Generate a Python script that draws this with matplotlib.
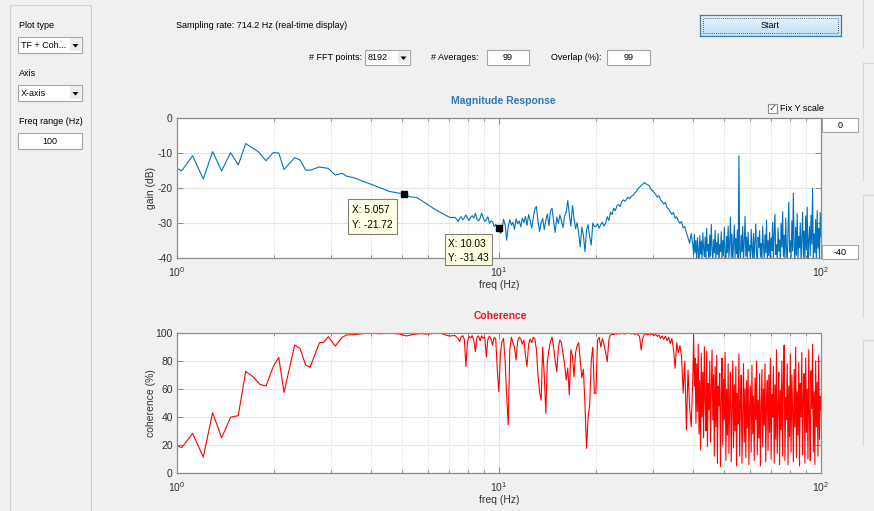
import numpy as np
import matplotlib
matplotlib.use('Agg')
import matplotlib.pyplot as plt
from matplotlib.patches import Rectangle, Polygon
from matplotlib.lines import Line2D
from matplotlib.ticker import LogLocator, NullFormatter

# ---------------- data ----------------
mag_f_low = [1.0, 1.034, 1.118, 1.207, 1.29, 1.376, 1.467, 1.55, 1.634, 1.787, 1.89, 1.99,
             2.07, 2.15, 2.32, 2.41, 2.51, 2.59, 2.77, 2.95, 3.10, 3.26, 3.36, 3.55, 3.97,
             4.58, 5.057, 5.28, 5.55, 5.82, 6.25, 6.70, 7.04]
mag_db_low = [-14.4, -15.1, -10.8, -17.4, -9.6, -15.1, -9.9, -13.4, -7.3, -9.6, -12.2, -9.9,
              -10.0, -14.7, -11.3, -12.0, -14.9, -14.9, -14.0, -14.4, -16.3, -15.8, -16.6, -17.1, -18.8,
              -21.0, -21.72, -22.5, -22.7, -23.9, -25.8, -27.4, -28.4]
# 7.3 - 20 Hz
mag_db_b = [-28.4, -28.9, -29.6, -28.6, -28.2, -29.1, -28.5, -27.7, -28.7, -29.3,
            -28.4, -27.9, -28.6, -27.2, -28.9, -29.4, -28.7, -27.2, -28.4, -29.6,
            -29.1, -28.2, -30.1, -29.4, -29.6, -31.0, -30.4, -31.5,
            -31.4, -33.0, -32.2, -28.9, -30.5, -34.9, -31.0, -29.1, -30.6, -29.8,
            -31.8, -28.8, -30.2, -29.4, -31.1, -28.6, -29.9, -28.1, -30.7, -27.6,
            -29.3, -31.5, -28.4, -26.0, -25.3, -29.5, -32.4, -30.0, -28.7, -31.9,
            -29.2, -27.4, -30.8, -26.5, -25.8, -29.6, -32.7, -28.3, -30.1, -27.7,
            -29.4, -31.3, -28.1, -26.9, -23.6, -27.5, -30.9, -25.0, -28.8, -31.6,
            -29.9, -33.1, -36.8, -31.2, -33.5, -38.2, -32.0, -30.5, -34.0, -36.3,
            -30.0, -31.0]
# 20 - 40 Hz
mag_db_c = [-31.0, -30.2, -31.5, -30.4, -29.8, -30.9, -30.1, -28.2, -29.3, -26.9,
            -27.6, -25.8, -26.5, -25.1, -24.7, -25.3, -23.9, -23.4, -23.8, -23.1,
            -22.6, -23.0, -22.3, -22.1, -21.4, -21.0, -20.2, -19.8, -19.3, -18.9,
            -18.4, -18.8, -19.1, -19.4, -20.3, -20.8, -21.2, -21.9, -22.6, -22.2,
            -23.4, -23.9, -24.6, -24.1, -25.6, -26.0, -26.9, -27.5, -27.0, -28.6,
            -28.2, -29.4, -30.1, -29.6, -31.4, -31.0, -32.8, -34.2, -35.8, -33.0]
# 40 - 100 Hz
mag_db_d = [-36.5, -39.0, -33.2, -38.4, -35.0, -41.5, -34.2, -37.8, -40.5, -33.6,
            -38.9, -35.1, -41.0, -32.8, -37.2, -39.6, -34.0, -40.8, -31.5, -38.0, -36.1, -42.0, -33.4,
            -39.5, -30.4, -37.0, -41.2, -34.8, -38.6, -32.1, -40.3, -35.5, -39.0, -33.0, -41.8, -36.2,
            -38.1, -32.5, -40.9, -35.0, -39.4, -31.2, -37.7, -42.0, -33.8, -38.5, -30.9, -40.2, -35.9,
            -28.3, -39.8, -33.2, -41.5, -36.0, -30.5, -40.0, -34.4, -38.8, -32.0, -42.0, -10.8, -37.5,
            -40.7, -33.5, -38.2, -31.0, -41.3, -35.2, -28.1, -39.5, -34.0, -40.9, -32.6, -38.0, -36.4,
            -41.6, -31.8, -37.3, -39.9, -33.0, -40.5, -35.5, -30.3, -38.8, -42.0, -34.1, -37.0, -32.2,
            -39.7, -35.8, -41.1, -30.9, -36.6, -40.2, -33.4, -38.5, -29.2, -41.0, -35.0, -39.3, -32.7,
            -40.6, -34.3, -37.9, -29.8, -41.4, -33.0, -27.5, -39.0, -36.2, -40.8, -31.4, -38.1, -34.8,
            -41.2, -30.1, -36.9, -26.8, -39.6, -33.5, -40.7, -28.6, -37.4, -42.0, -32.0, -24.0, -38.3,
            -35.1, -40.4, -29.4, -38.0, -21.5, -36.7, -41.3, -31.2, -39.2, -27.3, -40.6, -33.8, -37.0,
            -30.0, -41.5, -34.5, -26.9, -39.8, -32.3, -40.9, -28.0, -37.6, -25.5, -41.0, -35.2, -31.0,
            -39.4, -27.8, -36.0, -20.1, -40.7, -33.1, -38.5, -29.0, -41.8, -26.5, -37.2, -31.5, -40.0, -27.0, -34.0]

coh_f_low = [1.0, 1.034, 1.118, 1.207, 1.29, 1.376, 1.467, 1.55, 1.634, 1.72, 1.81, 1.89, 1.99,
             2.07, 2.15, 2.32, 2.41, 2.51, 2.59, 2.77, 2.85, 2.95, 3.10, 3.26, 3.36, 3.55, 3.8,
             4.0, 4.3, 4.6, 4.9, 5.17, 5.4, 5.7, 6.0, 6.3, 6.6, 7.0]
coh_low = [19.5, 18.1, 28.3, 11.4, 43.1, 25.2, 39.8, 41.0, 72.6, 68.8, 63.3, 62.1, 76.0,
           82.6, 57.6, 91.4, 89.0, 77.1, 75.5, 93.1, 93.3, 97.4, 90.7, 96.9, 98.6, 98.8, 99.6,
           99.8, 99.5, 99.9, 99.3, 97.9, 98.9, 99.6, 99.2, 99.8, 99.7, 97.8]
coh_b = [98.2, 97.0, 96.1, 93.8, 97.5, 98.0, 95.2, 76.0, 94.0, 97.6,
         96.5, 98.1, 95.0, 86.7, 96.8, 97.9, 94.4, 98.0, 96.2, 97.3,
         83.0, 95.5, 97.8, 96.0, 91.4, 97.0, 95.8, 74.0,
         58.0, 85.0, 94.0, 96.2, 80.0, 55.0, 34.3, 88.0, 97.0, 93.0,
         90.0, 80.7, 94.0, 97.0, 96.0, 92.0, 95.0, 84.0, 76.0, 92.0,
         95.5, 93.0, 97.0, 96.0, 88.0, 70.0, 58.0, 52.0, 90.0, 70.0,
         42.6, 80.0, 88.0, 94.0, 97.0, 90.0, 80.0, 72.4, 90.0, 95.0,
         93.0, 85.0, 78.0, 66.4, 75.0, 55.7, 88.0, 84.0, 68.8, 86.0,
         91.0, 93.0, 80.0, 68.0, 74.0, 48.6, 17.6, 40.0, 48.6, 80.0,
         90.0, 56.9]
coh_c = [57.0, 95.0, 97.0, 90.0, 96.0, 92.0, 86.0, 79.5, 95.0, 98.5,
         99.0, 98.8, 99.5, 99.2, 99.7, 99.4, 99.8, 99.5, 99.3, 99.8,
         99.6, 99.9, 99.4, 99.7, 99.1, 99.6, 98.9, 97.5, 87.9, 96.5,
         99.0, 99.4, 98.7, 99.5, 98.8, 99.3, 98.2, 99.0, 97.6, 98.5,
         96.2, 98.0, 95.5, 97.8, 94.6, 97.0, 92.5, 96.0, 88.5, 74.8,
         93.0, 86.0, 91.0, 83.0, 57.0, 80.0, 30.7, 73.6, 47.0, 33.0]
coh_d = [70, 98.6, 61.9, 82, 35.5, 78, 44, 92, 28, 66,
         16.4, 85.5, 40, 72, 25, 90.2, 52, 30, 87, 18.8, 64, 45, 80,
         22, 58, 88, 37.9, 70, 12, 76, 33, 84, 6.9, 62, 48, 71.2,
         4.5, 55, 82, 20, 67, 38, 86, 9, 60, 27, 78, 14, 52,
         72, 8, 44, 80, 18, 63, 30, 76, 5, 57, 35, 85, 12,
         50, 70, 7, 41, 78, 22, 60, 11, 66, 32, 74, 6, 48,
         62, 15, 77, 28, 55, 9, 68, 38, 80, 13, 52, 25, 71,
         5, 45, 74, 19, 60, 34, 78, 8, 50, 66, 16, 70, 29,
         82, 10, 56, 40, 76, 7, 63, 24, 88, 14, 48, 72, 6,
         59, 31, 80, 12, 67, 91.4, 9, 54, 38, 78, 6, 62, 26,
         85, 15, 70, 44, 8, 74, 33, 90, 11, 58, 27, 79, 5,
         64, 40, 86, 13, 55, 71, 7, 82, 29, 60, 10, 88, 37,
         9, 73, 46, 92, 15, 58, 6, 80, 33, 65, 12, 84, 24, 55, 45]

seg_edges = [7.3, 20.0, 40.0, 100.0]
tips = [(5.057, -21.72), (10.03, -31.43)]
mag_yticks = [-40, -30, -20, -10, 0]
coh_yticks = [0, 20, 40, 60, 80, 100]
xtick_vals = [1, 10, 100]
xtick_labels = [r'$\mathregular{10^{0}}$', r'$\mathregular{10^{1}}$', r'$\mathregular{10^{2}}$']


def build(f_low, v_low, vb, vc, vd):
    fb = np.geomspace(seg_edges[0], seg_edges[1], len(vb), endpoint=False)
    fc = np.geomspace(seg_edges[1], seg_edges[2], len(vc), endpoint=False)
    fd = np.geomspace(seg_edges[2], seg_edges[3], len(vd))
    f = np.concatenate([f_low, fb, fc, fd])
    v = np.concatenate([v_low, vb, vc, vd])
    return f, v


mag_f, mag_v = build(mag_f_low, mag_db_low, mag_db_b, mag_db_c, mag_db_d)
coh_f, coh_v = build(coh_f_low, coh_low, coh_b, coh_c, coh_d)

# ---------------- figure ----------------
plt.rcParams['font.family'] = ['Liberation Sans', 'DejaVu Sans']
plt.rcParams['axes.unicode_minus'] = False

W, H = 874, 511
fig = plt.figure(figsize=(W / 100, H / 100), dpi=100, facecolor='#f0f0f0')


def fx(x):
    return x / W


def fy(y):
    return 1 - y / H


def rect(x0, y0, x1, y1, fc='white', ec='#abadb3', lw=0.8, ls='-', z=1):
    fig.patches.append(Rectangle((fx(x0), fy(y1)), (x1 - x0) / W, (y1 - y0) / H,
                                 transform=fig.transFigure, facecolor=fc, edgecolor=ec,
                                 lw=lw, ls=ls, zorder=z))


def hline(x0, y0, x1, y1, color='#d6d6d6', lw=0.8):
    fig.add_artist(Line2D([fx(x0), fx(x1)], [fy(y0), fy(y1)], transform=fig.transFigure,
                          color=color, lw=lw))


def text(x, y, s, size=6.5, ha='left', va='center', **kw):
    fig.text(fx(x), fy(y), s, fontsize=size, ha=ha, va=va, **kw)


def dropdown(x0, y0, x1, y1, label):
    rect(x0, y0, x1, y1, 'white', '#a5a5a5')
    rect(x1 - 12, y0 + 1.5, x1 - 1.5, y1 - 1.5, '#ececec', 'none')
    cx, cy = x1 - 6.5, (y0 + y1) / 2 + 0.5
    fig.patches.append(Polygon([(fx(cx - 3), fy(cy - 1.5)), (fx(cx + 3), fy(cy - 1.5)),
                                (fx(cx), fy(cy + 2))], closed=True, transform=fig.transFigure,
                               facecolor='black', edgecolor='none', zorder=2))
    text(x0 + 3, (y0 + y1) / 2 + 0.5, label, color='black')


def editbox(x0, y0, x1, y1, label):
    rect(x0, y0, x1, y1, 'white', '#a5a5a5')
    text((x0 + x1) / 2, (y0 + y1) / 2 + 0.5, label, ha='center', color='black')


# left panel
rect(10, 5, 91, 520, 'none', '#d2d2d2', lw=0.9)
text(19, 26, 'Plot type')
dropdown(18, 37, 82, 53, 'TF + Coh...')
text(19, 73, 'Axis')
dropdown(18, 85, 82, 101, 'X-axis')
text(19, 122, 'Freq range (Hz)')
editbox(18, 133, 82, 149, '100')

# top controls
text(176, 25, 'Sampling rate: 714.2 Hz (real-time display)')
text(362, 57, '# FFT points:', ha='right')
dropdown(365, 50, 410, 65, '8192')
text(431, 57, '# Averages:')
editbox(487, 50, 529, 65, '99')
text(551, 57, 'Overlap (%):')
editbox(607, 50, 650, 65, '99')

# start button
bax = fig.add_axes([fx(700), fy(36), 141 / W, 21 / H])
g = np.linspace(0, 1, 40)[:, None]
top_c = np.array([0.91, 0.96, 0.99])
bot_c = np.array([0.76, 0.88, 0.97])
img = (top_c[None, None, :] * (1 - g[..., None]) + bot_c[None, None, :] * g[..., None])
bax.imshow(img, aspect='auto', extent=[0, 1, 0, 1])
bax.set_xticks([]); bax.set_yticks([])
for s in bax.spines.values():
    s.set_color('#3c7fb1'); s.set_linewidth(0.9)
bax.add_patch(Rectangle((0.02, 0.12), 0.96, 0.76, transform=bax.transAxes, fill=False,
                        edgecolor='#333333', lw=0.6, ls=(0, (1, 1.5))))
bax.text(0.5, 0.5, 'Start', transform=bax.transAxes, ha='center', va='center', fontsize=6.5)

# right side panel edges
for (ya, yb) in [(0, 48), (63, 180), (195, 317), (340, 445)]:
    hline(863, ya, 863, yb)
for ya in [63, 195, 340]:
    hline(863, ya, 874, ya)

# checkbox
rect(768, 104, 777, 113, 'white', '#8e8f8f')
text(772.5, 108.5, '\u2713', size=7, ha='center', color='#1c4f8f', family=['DejaVu Sans'])
text(780, 108.5, 'Fix Y scale')

# value boxes
editbox(822, 118, 858, 132, '0')
editbox(822, 245, 858, 259, '-40')


def style_axes(ax, yticks, ylim):
    ax.set_facecolor('white')
    ax.set_xscale('log')
    ax.set_xlim(1, 100)
    ax.set_ylim(*ylim)
    ax.set_yticks(yticks)
    ax.set_xticks(xtick_vals)
    ax.set_xticklabels(xtick_labels)
    ax.xaxis.set_minor_locator(LogLocator(base=10, subs=np.arange(2, 10)))
    ax.xaxis.set_minor_formatter(NullFormatter())
    ax.set_axisbelow(True)
    ax.grid(True, which='major', axis='both', color='#e4e4e4', lw=0.8, ls='-')
    ax.grid(True, which='minor', axis='x', color='#c4c4c4', lw=0.6, ls=(0, (1, 2)))
    ax.tick_params(which='both', direction='in', top=True, right=True, color='#7a7a7a',
                   labelcolor='#333333', labelsize=7.5, width=0.6)
    ax.tick_params(which='major', length=4, pad=3)
    ax.tick_params(axis='x', which='major', pad=5)
    ax.tick_params(which='minor', length=2.5)
    for s in ax.spines.values():
        s.set_color('#8c8c8c'); s.set_linewidth(0.9)


ax1 = fig.add_axes([fx(177), fy(258), 644 / W, 140 / H])
style_axes(ax1, mag_yticks, (-40, 0))
ax1.plot(mag_f, mag_v, color='#0072BD', lw=0.8)
ax1.set_ylabel('gain (dB)', fontsize=7.5, color='#333333')
ax1.set_xlabel('freq (Hz)', fontsize=7.5, color='#333333')
ax1.yaxis.set_label_coords(-0.033, 0.5)
ax1.xaxis.set_label_coords(0.5, -0.155)
for (tx, ty) in tips:
    ax1.plot([tx], [ty], marker='s', ms=5, color='black', zorder=6, clip_on=False)

ax2 = fig.add_axes([fx(177), fy(473), 644 / W, 140 / H])
style_axes(ax2, coh_yticks, (0, 100))
ax2.plot(coh_f, coh_v, color='#ff0000', lw=0.8)
ax2.set_ylabel('coherence (%)', fontsize=7.5, color='#333333')
ax2.set_xlabel('freq (Hz)', fontsize=7.5, color='#333333')
ax2.yaxis.set_label_coords(-0.033, 0.5)
ax2.xaxis.set_label_coords(0.5, -0.155)

text(503, 101, 'Magnitude Response', size=7.5, ha='center', weight='bold', color='#2b79b9')
text(500, 316, 'Coherence', size=7.5, ha='center', weight='bold', color='#e81a1a')

# data tips
rect(348, 199, 397, 234, '#ffffe1', '#808080', lw=0.8, z=5)
text(352, 210, 'X: %.3f' % tips[0][0], size=7.3, zorder=7)
text(352, 225, 'Y: %.2f' % tips[0][1], size=7.3, zorder=7)
rect(445, 234, 492, 265, '#ffffe1', '#808080', lw=0.8, z=5)
text(448, 244, 'X: %.2f' % tips[1][0], size=7.3, zorder=7)
text(448, 258, 'Y: %.2f' % tips[1][1], size=7.3, zorder=7)

fig.savefig('out.png', dpi=100, facecolor=fig.get_facecolor())
